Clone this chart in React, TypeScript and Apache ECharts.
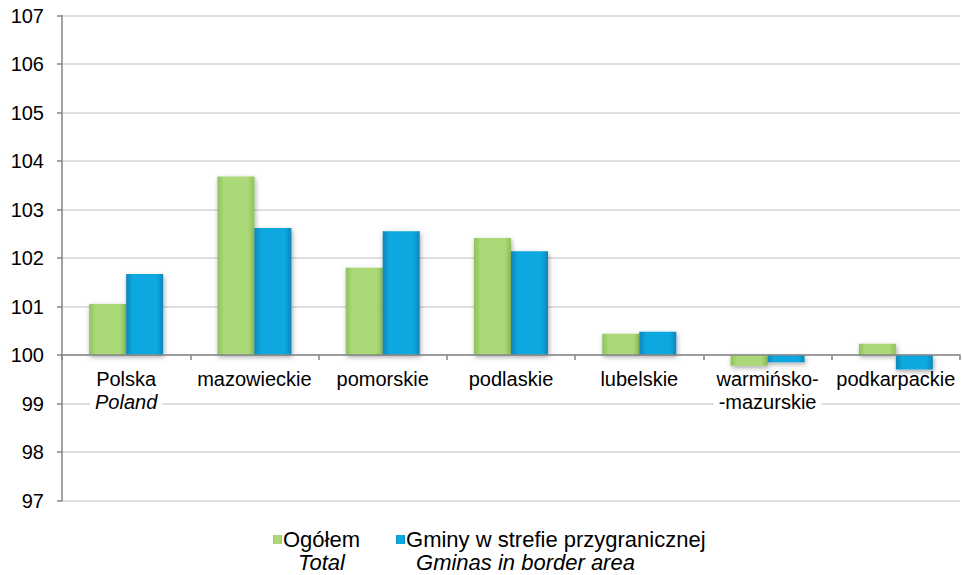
import React, { useEffect, useRef } from "react";
import * as echarts from "echarts";

const categoriesPl = ["Polska", "mazowieckie", "pomorskie", "podlaskie", "lubelskie", "warmińsko-", "podkarpackie"];
const categoriesLine2 = ["Poland", "", "", "", "", "-mazurskie", ""];
const line2Italic = [true, false, false, false, false, false, false];
const seriesNames = ["Ogółem", "Gminy w strefie przygranicznej"];
const seriesNamesEn = ["Total", "Gminas in border area"];
const totalValues = [101.05, 103.68, 101.8, 102.41, 100.44, 99.78, 100.23];
const borderValues = [101.67, 102.62, 102.55, 102.14, 100.48, 99.85, 99.7];
const baseValue = 100;
const yMin = 97;
const yMax = 107;

const FONT = "'Liberation Sans', Arial, sans-serif";
const GRID_TOP = 15.5;
const GRID_BOTTOM = 74.5;
const CHART_H = 575;
const AX_FS = 20;
const LG_FS = 22;

function barGradient(edge: string, mid: string) {
  return new echarts.graphic.LinearGradient(0, 0, 1, 0, [
    { offset: 0, color: edge },
    { offset: 0.18, color: mid },
    { offset: 0.82, color: mid },
    { offset: 1, color: edge },
  ]);
}

export default function App() {
  const ref = useRef<HTMLDivElement>(null);
  useEffect(() => {
    if (!ref.current) return;
    const chart = echarts.init(ref.current, null, { renderer: "svg" });
    const greenColor = barGradient("#8fc25a", "#acd977");
    const blueColor = barGradient("#0a86b8", "#0ea8e0");
    const plotH = CHART_H - GRID_TOP - GRID_BOTTOM;
    const baseOffset = -((baseValue - yMin) / (yMax - yMin)) * plotH;
    const option = {
      animation: false,
      backgroundColor: "#ffffff",
      textStyle: { fontFamily: FONT },
      grid: { left: 62, right: 2, top: GRID_TOP, bottom: GRID_BOTTOM, containLabel: false },
      legend: {
        data: seriesNames,
        top: 505.5,
        left: 273,
        padding: 0,
        itemGap: 36,
        itemWidth: 9,
        itemHeight: 9,
        icon: "rect",
        formatter: (name: string) => {
          const i = seriesNames.indexOf(name);
          return `{e| }\n{a|${name}}\n{${i === 0 ? "c" : "l"}|${seriesNamesEn[i]}}`;
        },
        textStyle: {
          fontFamily: FONT,
          fontSize: LG_FS,
          color: "#000",
          padding: [0, 0, 0, -4],
          rich: {
            e: { fontSize: LG_FS, lineHeight: 23, fontFamily: FONT },
            a: { fontSize: LG_FS, lineHeight: 23, color: "#000", fontFamily: FONT },
            c: { fontSize: LG_FS, lineHeight: 23, color: "#000", fontStyle: "italic", align: "center", fontFamily: FONT },
            l: { fontSize: LG_FS, lineHeight: 23, color: "#000", fontStyle: "italic", align: "left", padding: [0, 0, 0, 10], fontFamily: FONT },
          },
        },
      },
      xAxis: {
        type: "category",
        data: categoriesPl,
        z: 5,
        offset: baseOffset,
        axisLine: { onZero: false, lineStyle: { color: "#868686", width: 1.5 } },
        axisTick: { show: true, length: 5, lineStyle: { color: "#868686", width: 1.5 } },
        axisLabel: {
          interval: 0,
          margin: 12,
          color: "#000",
          fontSize: AX_FS,
          lineHeight: 23,
          fontFamily: FONT,
          formatter: (v: string, idx: number) => {
            const l2 = categoriesLine2[idx];
            if (!l2) return v;
            return `${v}\n{${line2Italic[idx] ? "i" : "n"}|${l2}}`;
          },
          rich: {
            i: { fontStyle: "italic", fontSize: AX_FS, lineHeight: 23, color: "#000", fontFamily: FONT, backgroundColor: "#fff", padding: [0, 5, 0, 5] },
            n: { fontSize: AX_FS, lineHeight: 23, color: "#000", fontFamily: FONT, backgroundColor: "#fff", padding: [0, 5, 0, 5] },
          },
        },
      },
      yAxis: {
        type: "value",
        min: yMin - baseValue,
        max: yMax - baseValue,
        interval: 1,
        axisLine: { show: true, lineStyle: { color: "#868686", width: 1.5 } },
        axisTick: { show: true, length: 5, lineStyle: { color: "#868686", width: 1.5 } },
        axisLabel: {
          color: "#000",
          fontSize: AX_FS,
          margin: 18,
          fontFamily: FONT,
          formatter: (v: number) => String(Math.round(v + baseValue)),
        },
        splitLine: { show: true, lineStyle: { color: "#d4d4d4", width: 1.5 } },
      },
      series: [
        {
          name: seriesNames[0],
          type: "bar",
          barWidth: 37,
          barGap: "0%",
          data: totalValues.map((v) => +(v - baseValue).toFixed(3)),
          itemStyle: {
            color: greenColor,
            shadowBlur: 5,
            shadowColor: "rgba(0,0,0,0.35)",
            shadowOffsetY: 2,
            shadowOffsetX: 1,
          },
        },
        {
          name: seriesNames[1],
          type: "bar",
          barWidth: 37,
          barGap: "0%",
          data: borderValues.map((v) => +(v - baseValue).toFixed(3)),
          itemStyle: {
            color: blueColor,
            shadowBlur: 5,
            shadowColor: "rgba(0,0,0,0.35)",
            shadowOffsetY: 2,
            shadowOffsetX: 1,
          },
        },
      ],
    };
    chart.setOption(option as any);
    return () => chart.dispose();
  }, []);
  return (
    <div
      ref={ref}
      style={{ position: "fixed", left: 0, top: 0, width: 962, height: 575, background: "#fff" }}
    />
  );
}
